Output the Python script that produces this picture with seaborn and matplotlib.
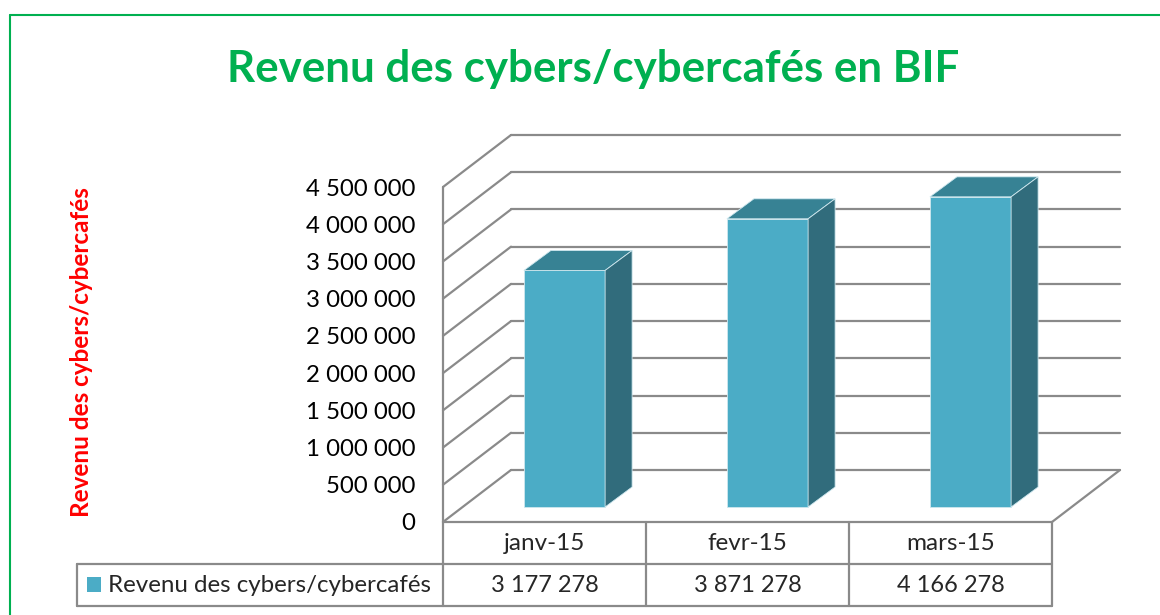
import pandas as pd
import seaborn as sns
import matplotlib.pyplot as plt
from matplotlib.lines import Line2D
from matplotlib.patches import Polygon, Rectangle
from matplotlib.transforms import IdentityTransform, ScaledTranslation

# data
months = ["janv-15", "fevr-15", "mars-15"]
revenue = [3177278, 3871278, 4166278]
y_ticks = [0, 500000, 1000000, 1500000, 2000000, 2500000, 3000000, 3500000, 4000000, 4500000]
series_name = "Revenu des cybers/cybercafés"
title = "Revenu des cybers/cybercafés en BIF"

W, H, DPI = 1160, 615, 100
FRONT = "#4BACC6"
TOP = "#378294"
SIDE = "#316C7C"
GRID = "#8a8a8a"
GREEN = "#00B050"

sns.set_theme(style="white")
plt.rcParams['font.family'] = ['Lato', 'DejaVu Sans']


def fx(px):
    return px / W


def fy(py):
    return 1 - py / H


def fmt(v):
    return f"{v:,}".replace(",", " ")


fig = plt.figure(figsize=(W / DPI, H / DPI), dpi=DPI)
ax = fig.add_axes([fx(443), fy(522), fx(1052) - fx(443), fy(187) - fy(522)])

df = pd.DataFrame({"mois": months, "revenu": revenue})
sns.barplot(data=df, x="mois", y="revenu", color=FRONT, saturation=1,
            width=0.4, ax=ax, zorder=3)
ax.set_xlim(-0.5, 2.5)
ax.set_ylim(0, 4500000)
ax.set_yticks(y_ticks)
ax.set_yticklabels([fmt(v) for v in y_ticks])
ax.set_xticks([])
ax.set_xlabel("")
ax.set_ylabel("")
ax.tick_params(axis="y", length=0, pad=20, labelsize=17.3, labelcolor="black")
for s in ax.spines.values():
    s.set_visible(False)

ident = IdentityTransform()


def disp(x, y):
    return ax.transData.transform((x, y))


def seg(a, b, color=GRID, lw=1.6, z=1):
    ax.add_artist(Line2D([a[0], b[0]], [a[1], b[1]], transform=ident,
                         color=color, lw=lw, zorder=z, clip_on=False))


# 3d box: back wall, left wall, floor
wall = (68, 52)
for v in y_ticks:
    p0 = disp(-0.5, v)
    p1 = disp(2.5, v)
    b0 = (p0[0] + wall[0], p0[1] + wall[1])
    b1 = (p1[0] + wall[0], p1[1] + wall[1])
    seg(b0, b1)
    seg(p0, b0)
seg(disp(-0.5, 0), disp(-0.5, 4500000))
r0 = disp(2.5, 0)
seg(r0, (r0[0] + wall[0], r0[1] + wall[1]))

# bars pushed into the depth, with top and side faces
front_off = (20, 15)
back_off = (47, 35)
shift = ScaledTranslation(front_off[0] / DPI, front_off[1] / DPI, fig.dpi_scale_trans)
for p in ax.patches:
    p.set_transform(ax.transData + shift)
    p.set_clip_on(False)
    p.set_edgecolor("#cfe8ef")
    p.set_linewidth(0.6)
    x0, x1, h = p.get_x(), p.get_x() + p.get_width(), p.get_height()
    fl, fr = disp(x0, h), disp(x1, h)
    fb = disp(x1, 0)
    top = [(fl[0] + front_off[0], fl[1] + front_off[1]),
           (fr[0] + front_off[0], fr[1] + front_off[1]),
           (fr[0] + back_off[0], fr[1] + back_off[1]),
           (fl[0] + back_off[0], fl[1] + back_off[1])]
    side = [(fb[0] + front_off[0], fb[1] + front_off[1]),
            (fr[0] + front_off[0], fr[1] + front_off[1]),
            (fr[0] + back_off[0], fr[1] + back_off[1]),
            (fb[0] + back_off[0], fb[1] + back_off[1])]
    ax.add_artist(Polygon(top, closed=True, transform=ident, facecolor=TOP,
                          edgecolor="#cfe8ef", lw=0.6, zorder=3, clip_on=False))
    ax.add_artist(Polygon(side, closed=True, transform=ident, facecolor=SIDE,
                          edgecolor="#cfe8ef", lw=0.6, zorder=3, clip_on=False))

# data table
row1, row2, row3 = H - 522, H - 564, H - 606
xl = disp(-0.5, 0)[0]
xr = disp(2.5, 0)[0]
seg((xl, row1), (xr, row1), z=4)
seg((77, row2), (xr, row2), z=4)
seg((77, row3), (xr, row3), z=4)
seg((77, row2), (77, row3), z=4)
for b in [-0.5, 0.5, 1.5, 2.5]:
    xb = disp(b, 0)[0]
    seg((xb, row1), (xb, row3), z=4)
for i, (m, v) in enumerate(zip(months, revenue)):
    xc = disp(i, 0)[0] / W
    fig.text(xc, fy(544), m, ha="center", va="center", fontsize=17.5)
    fig.text(xc, fy(585), fmt(v), ha="center", va="center", fontsize=17)

fig.add_artist(Rectangle((87, H - 592), 14, 15, transform=ident,
                         facecolor=FRONT, edgecolor="none"))
fig.text(fx(108), fy(585), series_name, ha="left", va="center", fontsize=17.4)

# titles
fig.text(fx(593), fy(82), title, ha="center", va="baseline", fontsize=31.6,
         fontweight="bold", color=GREEN)
fig.text(fx(82), fy(352), series_name, rotation=90, ha="center", va="center",
         fontsize=17.5, fontweight="bold", color="red")

# green frame
fig.add_artist(Line2D([9.5, 9.5], [0, H - 15], transform=ident, color=GREEN, lw=1.5))
fig.add_artist(Line2D([9.5, W], [H - 15, H - 15], transform=ident, color=GREEN, lw=1.5))

fig.savefig("out.png", dpi=DPI)
